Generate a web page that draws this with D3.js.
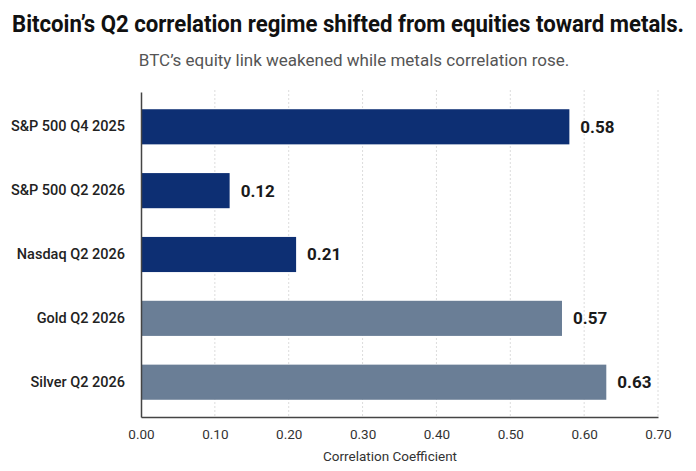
<!DOCTYPE html>
<html>
<head>
<meta charset="utf-8">
<script src="https://cdn.jsdelivr.net/npm/d3@7"></script>
<style>
  body { margin: 0; background: #fff; }
  svg { display: block; font-family: Roboto, "Liberation Sans", sans-serif; }
</style>
</head>
<body>
<svg id="chart" width="696" height="471"></svg>
<script>
const categories = ["S&P 500 Q4 2025", "S&P 500 Q2 2026", "Nasdaq Q2 2026", "Gold Q2 2026", "Silver Q2 2026"];
const values = [0.58, 0.12, 0.21, 0.57, 0.63];
const groups = ["equity", "equity", "equity", "metal", "metal"];
const xTicks = [0, 0.1, 0.2, 0.3, 0.4, 0.5, 0.6, 0.7];

const svg = d3.select("#chart");
const margin = { top: 92, right: 38, bottom: 54, left: 141 };
const width = 696;
const height = 471;

const x = d3.scaleLinear()
    .domain([0, 0.7])
    .range([margin.left, width - margin.right]);

const y = d3.scaleBand()
    .domain(categories)
    .range([margin.top, height - margin.bottom])
    .paddingInner(0.45)
    .paddingOuter(0.27);

const color = d3.scaleOrdinal()
    .domain(["equity", "metal"])
    .range(["#0d2f73", "#6a7e96"]);

// title (condensed look: smaller font stretched vertically) + subtitle
svg.append("text")
    .attr("transform", `translate(${width / 2},32) scale(1,1.28)`)
    .attr("text-anchor", "middle")
    .attr("textLength", 672)
    .attr("lengthAdjust", "spacingAndGlyphs")
    .style("font-size", "19px")
    .style("font-weight", "bold")
    .style("fill", "#111")
    .text("Bitcoin\u2019s Q2 correlation regime shifted from equities toward metals.");

svg.append("text")
    .attr("x", 354)
    .attr("y", 66)
    .attr("text-anchor", "middle")
    .style("font-size", "17px")
    .style("fill", "#555")
    .text("BTC\u2019s equity link weakened while metals correlation rose.");

// grid
svg.append("g")
    .selectAll("line")
    .data(xTicks.slice(1))
    .enter()
    .append("line")
    .attr("x1", d => x(d))
    .attr("x2", d => x(d))
    .attr("y1", margin.top - 2)
    .attr("y2", height - margin.bottom)
    .attr("stroke", "#dcdcdc")
    .attr("stroke-width", 1)
    .attr("stroke-dasharray", "2,2");

// bars
svg.append("g")
    .selectAll("rect")
    .data(categories)
    .enter()
    .append("rect")
    .attr("x", x(0))
    .attr("y", d => y(d))
    .attr("width", (d, i) => x(values[i]) - x(0))
    .attr("height", y.bandwidth())
    .attr("fill", (d, i) => color(groups[i]));

// value labels
svg.append("g")
    .selectAll("text")
    .data(categories)
    .enter()
    .append("text")
    .attr("x", (d, i) => x(values[i]) + 11)
    .attr("y", d => y(d) + y.bandwidth() / 2)
    .attr("dy", "0.35em")
    .style("font-size", "17px")
    .style("font-weight", "bold")
    .style("fill", "#1a1a1a")
    .text((d, i) => values[i].toFixed(2));

// x axis
const xAxis = svg.append("g")
    .attr("transform", `translate(0,${height - margin.bottom})`)
    .call(d3.axisBottom(x).tickValues(xTicks).tickFormat(d3.format(".2f")).tickSize(0).tickPadding(12));
xAxis.select(".domain").attr("stroke", "#444").attr("stroke-width", 1.5);
xAxis.selectAll("text").style("font-size", "13.5px").style("fill", "#333").style("font-family", "Roboto, sans-serif");

// y axis
const yAxis = svg.append("g")
    .attr("transform", `translate(${margin.left},0)`)
    .call(d3.axisLeft(y).tickSize(0).tickPadding(16));
yAxis.select(".domain").attr("stroke", "#444").attr("stroke-width", 1.5);
yAxis.selectAll("text").style("font-size", "14.5px").style("font-weight", "500").style("fill", "#222").style("font-family", "Roboto, sans-serif");

// axis title
svg.append("text")
    .attr("x", 390)
    .attr("y", 461)
    .attr("text-anchor", "middle")
    .style("font-size", "13.5px")
    .style("fill", "#333")
    .text("Correlation Coefficient");
</script>
</body>
</html>
